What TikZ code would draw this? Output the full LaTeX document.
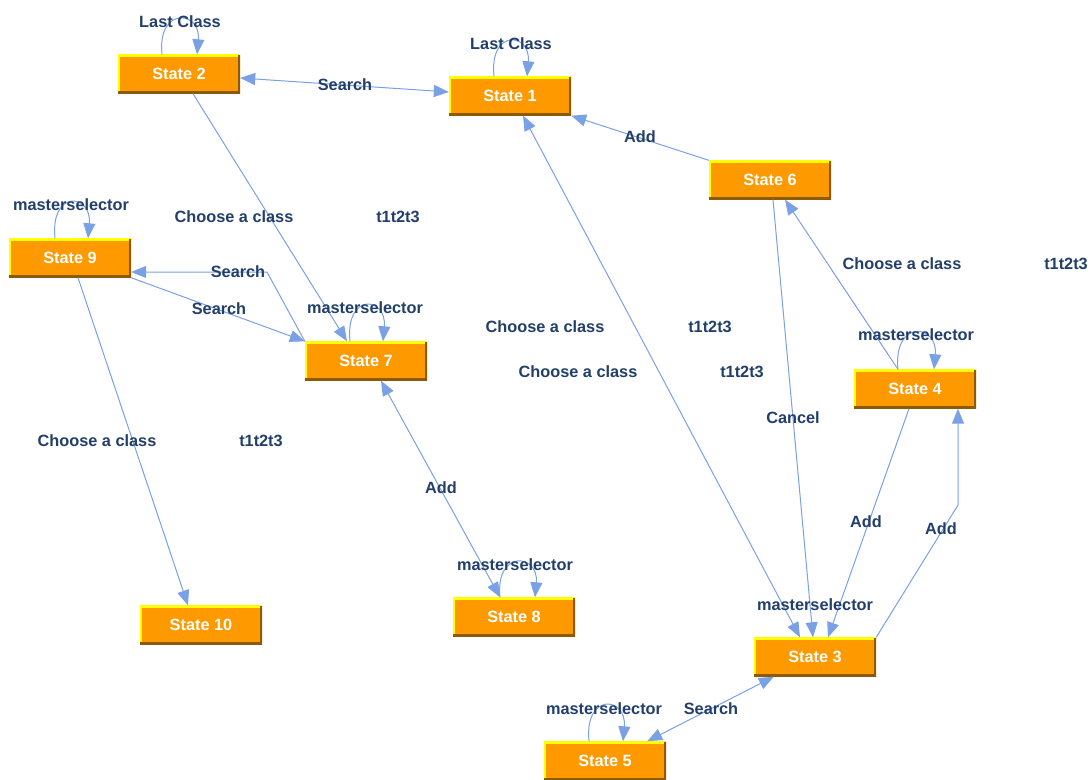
\documentclass[tikz,border=0pt]{standalone}
\usepackage{fontspec}
\setmainfont{Liberation Sans}
\usetikzlibrary{arrows.meta,calc}
\definecolor{stOrange}{HTML}{FF9900}
\definecolor{stYellow}{HTML}{FFFF00}
\definecolor{stBrown}{HTML}{8C5A00}
\definecolor{edgeBlue}{HTML}{7AA0E6}
\definecolor{lblBlue}{HTML}{213F6A}
\begin{document}
\begin{tikzpicture}[x=1pt,y=-1pt,
  statebox/.style={rectangle, fill=stOrange, minimum width=122pt, minimum height=39pt,
    inner sep=0pt, text=white, font=\bfseries\fontsize{16.3}{18}\selectfont,
    path picture={
      \draw[line width=4pt, stYellow] (path picture bounding box.south west)
        -- (path picture bounding box.north west) -- (path picture bounding box.north east);
      \draw[line width=5pt, stBrown] (path picture bounding box.north east)
        -- (path picture bounding box.south east) -- (path picture bounding box.south west);
    }},
  lbl/.style={text=lblBlue, font=\bfseries\fontsize{16.3}{18}\selectfont, inner sep=0pt},
  tip/.tip={Triangle[length=15pt,width=12pt]},
  edge/.style={draw=edgeBlue, line width=1pt, -tip},
  twoway/.style={draw=edgeBlue, line width=1pt, tip-tip},
  loopcurve/.style={edge}
]
\useasboundingbox (0,0) rectangle (1091,779);

% states
\node[statebox] (s2) at (179,74) {State 2};
\node[statebox] (s1) at (510,96) {State 1};
\node[statebox] (s6) at (770,180) {State 6};
\node[statebox] (s9) at (70,258) {State 9};
\node[statebox] (s7) at (366,361) {State 7};
\node[statebox] (s4) at (915,389) {State 4};
\node[statebox] (s10) at (201,625) {State 10};
\node[statebox] (s8) at (514,617) {State 8};
\node[statebox] (s3) at (815,657) {State 3};
\node[statebox] (s5) at (605,761) {State 5};

% bend points
\coordinate (b34) at (958,505);
\coordinate (b79) at (267,272);

% transitions
\draw[twoway] ([yshift=-4pt]s2.east) -- ([yshift=4pt]s1.west);
\draw[edge] ([xshift=14pt]s2.south) -- ([xshift=-19pt]s7.north);
\draw[edge] (s6.north west) -- (s1.south east);
\draw[twoway] ([xshift=13pt]s1.south) -- ([xshift=-15pt]s3.north);
\draw[edge] ([xshift=3pt]s6.south) -- ([xshift=-2pt]s3.north);
\draw[edge] ([xshift=-17pt]s4.north) -- ([xshift=15pt]s6.south);
\draw[edge] ([xshift=-6pt]s4.south) -- ([xshift=13pt]s3.north);
\draw[edge] (s3.north east) -- (b34) -- ([xshift=43pt]s4.south);
\draw[twoway] ([xshift=20pt]s3.south west) -- ([xshift=-19pt]s5.north east);
\draw[edge] (s7.north west) -- (b79) -- (s9.east |- b79);
\draw[edge] (s9.south east) -- (s7.north west);
\draw[edge] ([xshift=8pt]s9.south) -- ([xshift=-13pt]s10.north);
\draw[twoway] ([xshift=15pt]s7.south) -- ([xshift=-14pt]s8.north);

% self loops
\draw[loopcurve] ([xshift=-17pt]s2.north) .. controls +(-5,-48) and +(4,-44) .. ([xshift=18pt]s2.north);
\draw[loopcurve] ([xshift=-16pt]s1.north) .. controls +(-5,-48) and +(4,-44) .. ([xshift=17pt]s1.north);
\draw[loopcurve] ([xshift=-15pt]s9.north) .. controls +(-5,-49) and +(4,-45) .. ([xshift=18pt]s9.north);
\draw[loopcurve] ([xshift=-16pt]s7.north) .. controls +(-5,-49) and +(4,-45) .. ([xshift=17pt]s7.north);
\draw[loopcurve] ([xshift=-17pt]s4.north) .. controls +(-5,-50) and +(4,-46) .. ([xshift=19pt]s4.north);
\draw[loopcurve] ([xshift=-16pt]s5.north) .. controls +(-5,-49) and +(4,-45) .. ([xshift=18pt]s5.north);
\draw[loopcurve] ([xshift=-14pt]s8.north) .. controls +(-5,-48) and +(4,-44) .. ([xshift=21pt]s8.north);

% transition labels
\node[lbl] (l1) at (180,22) {Last Class};
\node[lbl] (l2) at (511,44) {Last Class};
\node[lbl] (l3) at (345,85) {Search};
\node[lbl] (l4) at (640,137) {Add};
\node[lbl] (l5) at (71,205) {masterselector};
\node[lbl] (l6) at (234,217) {Choose a class};
\node[lbl] (l7) at (398,217) {t1t2t3};
\node[lbl] (l8) at (238,272) {Search};
\node[lbl] (l9) at (219,309) {Search};
\node[lbl] (l10) at (365,308) {masterselector};
\node[lbl] (l11) at (545,327) {Choose a class};
\node[lbl] (l12) at (710,327) {t1t2t3};
\node[lbl] (l13) at (578,372) {Choose a class};
\node[lbl] (l14) at (742,372) {t1t2t3};
\node[lbl] (l15) at (902,264) {Choose a class};
\node[lbl] (l16) at (1066,264) {t1t2t3};
\node[lbl] (l17) at (916,335) {masterselector};
\node[lbl] (l18) at (793,418) {Cancel};
\node[lbl] (l19) at (97,441) {Choose a class};
\node[lbl] (l20) at (261,441) {t1t2t3};
\node[lbl] (l21) at (441,488) {Add};
\node[lbl] (l22) at (866,522) {Add};
\node[lbl] (l23) at (941,529) {Add};
\node[lbl] (l24) at (515,565) {masterselector};
\node[lbl] (l25) at (815,605) {masterselector};
\node[lbl] (l26) at (604,709) {masterselector};
\node[lbl] (l27) at (711,709) {Search};
\end{tikzpicture}
\end{document}
